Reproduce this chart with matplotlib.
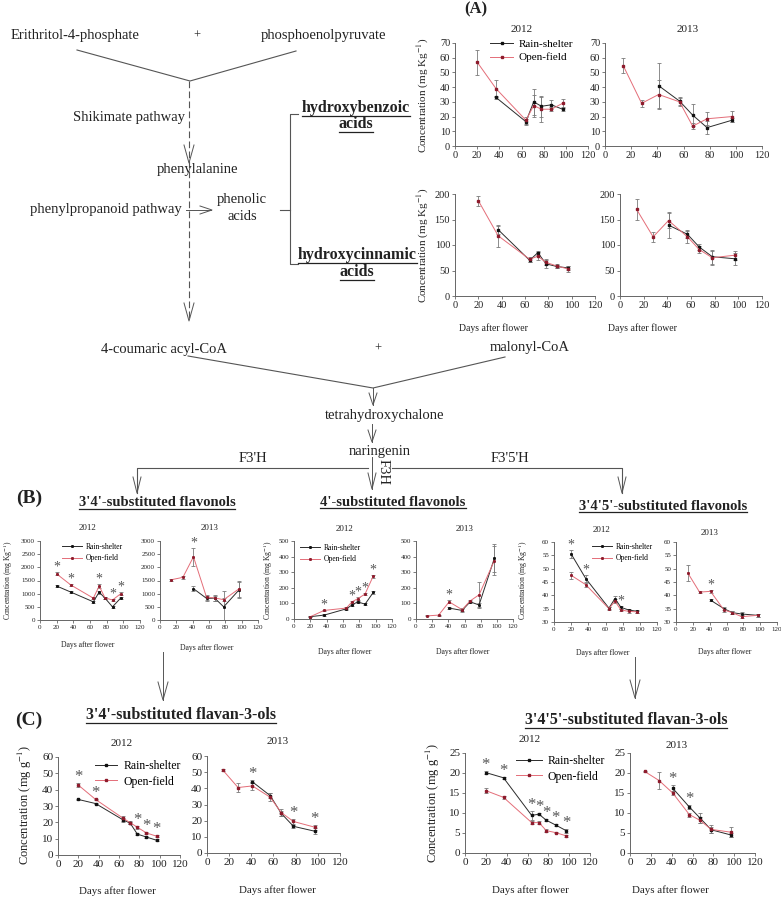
import numpy as np
import matplotlib
matplotlib.use('Agg')
import matplotlib.pyplot as plt

plt.rcParams['font.family'] = ['Liberation Serif', 'DejaVu Serif']
plt.rcParams['mathtext.fontset'] = 'stix'

# sampling days
days12 = [20, 37, 64, 71, 78, 87, 97]
days13 = [14, 28, 41, 57, 67, 78, 97]
days12_rs = [37, 64, 71, 78, 87, 97]
days13_rs = [41, 57, 67, 78, 97]

# (A) hydroxybenzoic acids, mg/kg
hb12_of = [57, 39, 17.5, 27.5, 25, 25, 29]
hb12_of_err = [8.5, 6, 2.5, 7.5, 8.5, 1.5, 3]
hb12_rs = [33, 16.5, 30, 27, 28, 25]
hb12_rs_err = [1, 2, 9, 7, 3, 1.5]
hb13_of = [54.5, 29, 35, 30, 13.5, 18.5, 20]
hb13_of_err = [5, 2.5, 10, 2.5, 2, 4.5, 3.5]
hb13_rs = [41, 30.5, 21, 12.5, 17.5]
hb13_rs_err = [15.5, 2.5, 7.5, 4.5, 1.5]

# (A) hydroxycinnamic acids, mg/kg
hc12_of = [187, 118, 72, 78, 66, 59, 53]
hc12_of_err = [10, 22, 5, 8, 5, 4, 5]
hc12_rs = [130, 70, 85, 63, 58, 55]
hc12_rs_err = [8, 4, 4, 9, 3, 4]
hc13_of = [170, 116, 148, 116, 91, 75, 80]
hc13_of_err = [21, 10, 15, 12, 7, 14, 9]
hc13_rs = [139, 121, 96, 77, 73]
hc13_rs_err = [25, 8, 5, 14, 12]

# (B) 3'4'-substituted flavonols
f34_12_rs = [1290, 1060, 690, 1060, 830, 500, 840]
f34_12_rs_err = [50, 30, 40, 60, 30, 40, 50]
f34_12_of = [1750, 1330, 830, 1290, 840, 760, 1000]
f34_12_of_err = [60, 40, 50, 90, 40, 30, 60]
f34_12_sig = [20, 37, 71, 87, 97]
f34_13_of = [1530, 1620, 2400, 860, 840, 770, 1190]
f34_13_of_err = [30, 60, 350, 100, 120, 60, 300]
f34_13_rs = [1190, 820, 830, 500, 1150]
f34_13_rs_err = [100, 80, 100, 600, 300]
f34_13_sig = [41]

# (B) 4'-substituted flavonols
f4_12_rs = [15, 25, 65, 90, 110, 95, 170]
f4_12_rs_err = [3, 5, 5, 8, 8, 8, 8]
f4_12_of = [15, 55, 70, 110, 130, 160, 275]
f4_12_of_err = [3, 5, 5, 8, 8, 8, 10]
f4_12_sig = [37, 71, 78, 87, 97]
f4_13_of = [20, 25, 110, 60, 116, 155, 375]
f4_13_of_err = [3, 3, 10, 8, 8, 85, 90]
f4_13_rs = [70, 55, 110, 90, 390]
f4_13_rs_err = [8, 8, 8, 10, 90]
f4_13_sig = [41]

# (B) 3'4'5'-substituted flavonols
f345_12_rs = [55.5, 46.3, 35.2, 38.8, 35.5, 34.5, 34.0]
f345_12_rs_err = [1.5, 1.2, 0.5, 1.0, 0.5, 0.5, 0.5]
f345_12_of = [47.5, 44.0, 35.0, 37.8, 34.5, 34.0, 33.8]
f345_12_of_err = [1.2, 0.8, 0.5, 0.8, 0.5, 0.5, 0.5]
f345_12_sig = [20, 37, 78]
f345_13_of = [48.4, 41.2, 41.5, 34.5, 33.5, 32.0, 32.5]
f345_13_of_err = [3.0, 0.4, 0.5, 0.6, 0.5, 0.6, 0.5]
f345_13_rs = [38.2, 35.0, 33.5, 33.0, 32.5]
f345_13_rs_err = [0.5, 0.6, 0.5, 0.6, 0.5]
f345_13_sig = [41]

# (C) 3'4'-substituted flavan-3-ols, mg/g
fl34_12_rs = [34, 31.5, 21.5, 19.5, 12.8, 11, 9]
fl34_12_rs_err = [0.5, 0.5, 1, 0.5, 0.5, 0.5, 0.5]
fl34_12_of = [42.8, 34, 22.5, 19.8, 17, 13.5, 11.5]
fl34_12_of_err = [1, 0.5, 1.5, 1, 0.8, 0.8, 0.6]
fl34_12_sig = [20, 37, 78, 87, 97]
fl34_13_of = [51.5, 40.5, 41.5, 34.5, 25, 19.5, 16]
fl34_13_of_err = [0.5, 2.5, 2.5, 2.5, 2, 1.5, 1.5]
fl34_13_rs = [44, 35.5, 24.5, 16.5, 13.5]
fl34_13_rs_err = [1, 1.5, 1.5, 1, 2]
fl34_13_sig = [41, 78, 97]

# (C) 3'4'5'-substituted flavan-3-ols, mg/g
fl345_12_rs = [20.1, 18.8, 9.4, 9.7, 8.2, 7.0, 5.6]
fl345_12_rs_err = [0.3, 0.3, 1.2, 0.3, 0.3, 0.3, 0.5]
fl345_12_of = [15.6, 13.9, 7.6, 7.6, 5.6, 5.1, 4.3]
fl345_12_of_err = [0.6, 0.3, 0.3, 0.3, 0.3, 0.2, 0.2]
fl345_12_sig = [20, 37, 64, 71, 78, 87, 97]
fl345_13_of = [20.4, 18.1, 15.0, 9.6, 8.2, 5.9, 5.2]
fl345_13_of_err = [0.2, 2.2, 0.5, 0.5, 0.7, 1.0, 1.2]
fl345_13_rs = [16.2, 11.5, 8.8, 5.8, 4.5]
fl345_13_rs_err = [0.8, 0.6, 1.2, 0.8, 0.5]
fl345_13_sig = [41, 57]

W, H = 781, 899
fig = plt.figure(figsize=(W / 100, H / 100), dpi=100)
ov = fig.add_axes([0, 0, 1, 1])
ov.set_xlim(0, W)
ov.set_ylim(H, 0)
ov.axis('off')

GRAY = '#555555'
RS_LINE, RS_MK = '#2b2b2b', '#111111'
OF_LINE, OF_MK = '#e46d78', '#8e1b2c'


def rect(x0, y0, x1, y1):
    return [x0 / W, 1 - y1 / H, (x1 - x0) / W, (y1 - y0) / H]


def panel(box, ylim, ystep, rs_days, rs, rs_err, of_days, of, of_err,
          sig=(), fs=7.5, ms=1.5, star_fs=11):
    ax = fig.add_axes(rect(*box))
    ax.patch.set_alpha(0)
    ax.errorbar(rs_days, rs, yerr=rs_err, fmt='none', ecolor='#7a7a7a',
                elinewidth=0.6, capsize=1.5, capthick=0.6)
    ax.errorbar(of_days, of, yerr=of_err, fmt='none', ecolor='#7a7a7a',
                elinewidth=0.6, capsize=1.5, capthick=0.6)
    l1, = ax.plot(rs_days, rs, color=RS_LINE, lw=0.7, marker='s', ms=ms,
                  mfc=RS_MK, mec=RS_MK)
    l2, = ax.plot(of_days, of, color=OF_LINE, lw=0.7, marker='s', ms=ms,
                  mfc=OF_MK, mec=OF_MK)
    ax.set_xlim(0, 120)
    ax.set_xticks(range(0, 121, 20))
    ax.set_ylim(*ylim)
    ax.set_yticks(np.arange(ylim[0], ylim[1] + 0.1, ystep))
    for s in ['top', 'right']:
        ax.spines[s].set_visible(False)
    for s in ['left', 'bottom']:
        ax.spines[s].set_color('#666666')
        ax.spines[s].set_linewidth(0.7)
    ax.tick_params(labelsize=fs, length=2, width=0.6, color='#666666', pad=1.5,
                   labelcolor='#222222')
    span = ylim[1] - ylim[0]
    tops = {}
    for dd, vv, ee in [(rs_days, rs, rs_err), (of_days, of, of_err)]:
        for d, v, e in zip(dd, vv, ee):
            tops[d] = max(tops.get(d, -1e9), v + e)
    for d in sig:
        ax.text(d, tops[d] - 0.02 * span, '*', ha='center', va='bottom',
                fontsize=star_fs, color=GRAY, clip_on=False)
    return ax, l1, l2


def legend(ax, l1, l2, x, y, fs, hl, sp):
    ax.legend([l1, l2], ['Rain-shelter', 'Open-field'], loc='upper left',
              bbox_to_anchor=(x / W, 1 - y / H), bbox_transform=fig.transFigure,
              frameon=False, fontsize=fs, handlelength=hl, handletextpad=0.5,
              borderpad=0, borderaxespad=0, labelspacing=sp)


def txt(x, y, s, fs=10.5, **kw):
    return ov.text(x, y, s, ha=kw.pop('ha', 'center'), va=kw.pop('va', 'center'),
                   fontsize=fs, color=kw.pop('color', '#222222'), **kw)


def seg(pts, **kw):
    xs, ys = zip(*pts)
    ov.plot(xs, ys, color=kw.pop('color', GRAY), lw=kw.pop('lw', 0.8), **kw)


def vhead(x, y, size=18, half=5):
    # open arrow head pointing down, tip at (x, y)
    seg([(x - half, y - size), (x, y), (x + half, y - size)], lw=0.7)


under = []


def title(x, y, s, fs):
    t = txt(x, y, s, fs, fontweight='bold')
    under.append(t)


# ---------------- pathway diagram ----------------
txt(75, 36, 'Erithritol-4-phosphate')
txt(197, 36, '+', 9)
txt(323, 36, 'phosphoenolpyruvate')
seg([(77, 50), (190, 81), (296, 51)])
seg([(189, 81), (189, 320)], ls=(0, (6, 3)))
vhead(189, 163)
vhead(189, 321)
txt(185, 118, 'Shikimate pathway', ha='right')
txt(197, 169, 'phenylalanine')
txt(182, 210, 'phenylpropanoid pathway', ha='right')
seg([(186, 210), (211, 210)], lw=0.7)
seg([(200, 206), (212, 210), (200, 214)], lw=0.7)
txt(242, 200, 'phenolic')
txt(242, 217, 'acids')
seg([(280, 210), (290, 210)])
seg([(298, 114), (290, 114), (290, 264), (298, 264)])
title(356, 108, 'hydroxybenzoic', 11.5)
title(356, 124, 'acids', 11.5)
title(357, 255, 'hydroxycinnamic', 11.5)
title(357, 272, 'acids', 11.5)

txt(164, 349, '4-coumaric acyl-CoA')
txt(378, 349, '+', 9)
txt(530, 347, 'malonyl-CoA')
seg([(188, 356), (373, 388), (505, 357)])
seg([(373, 388), (373, 405)], lw=0.7)
vhead(373, 405, 12, 4)
txt(385, 415, 'tetrahydroxychalone')
seg([(372, 424), (372, 442)], lw=0.7)
vhead(372, 442, 12, 4)
txt(380, 451, 'naringenin')
seg([(137, 493), (137, 468), (368, 468)])
seg([(392, 468), (622, 468), (622, 493)])
vhead(137, 493, 16, 4)
vhead(622, 493, 16, 4)
seg([(372, 457), (372, 489)], lw=0.7)
vhead(372, 489, 16, 4)
txt(253, 459, "F3'H", 10.5)
txt(510, 459, "F3'5'H", 10.5)
txt(383, 472, 'F3H', 10.5, rotation=-90)

# ---------------- (A) ----------------
txt(476, 9, '(A)', 12, fontweight='bold')
txt(522, 29, '2012', 8)
txt(688, 29, '2013', 8)
a, l1, l2 = panel((455, 43, 588, 146), (0, 70), 10, days12_rs, hb12_rs, hb12_rs_err,
                  days12, hb12_of, hb12_of_err)
legend(a, l1, l2, 490, 39, 8, 2.1, 0.35)
panel((605, 43, 762, 146), (0, 70), 10, days13_rs, hb13_rs, hb13_rs_err,
      days13, hb13_of, hb13_of_err)
panel((455, 194, 595, 296), (0, 200), 50, days12_rs, hc12_rs, hc12_rs_err,
      days12, hc12_of, hc12_of_err)
panel((620, 194, 762, 296), (0, 200), 50, days13_rs, hc13_rs, hc13_rs_err,
      days13, hc13_of, hc13_of_err)
for yc in (95, 245):
    txt(423, yc, 'Concentration (mg Kg$^{-1}$)', 8, rotation=90)
txt(493, 328, 'Days after flower', 7)
txt(642, 328, 'Days after flower', 7)

# ---------------- (B) ----------------
txt(29, 498, '(B)', 14, fontweight='bold')
title(157, 503, "3'4'-substituted flavonols", 10.5)
title(393, 502, "4'-substituted flavonols", 10.5)
title(663, 506, "3'4'5'-substituted flavonols", 10.5)
for x, y, s in [(88, 528, '2012'), (210, 528, '2013'), (345, 529, '2012'),
                (465, 529, '2013'), (602, 530, '2012'), (710, 533, '2013')]:
    txt(x, y, s, 6.5)
bk = dict(fs=5, ms=1.1, star_fs=10)
a, l1, l2 = panel((40, 541, 140, 620), (0, 3000), 500, days12, f34_12_rs, f34_12_rs_err,
                  days12, f34_12_of, f34_12_of_err, f34_12_sig, **bk)
legend(a, l1, l2, 62, 543, 5.5, 2.6, 0.45)
panel((160, 541, 258, 620), (0, 3000), 500, days13_rs, f34_13_rs, f34_13_rs_err,
      days13, f34_13_of, f34_13_of_err, f34_13_sig, **bk)
a, l1, l2 = panel((294, 541, 392, 619), (0, 500), 100, days12, f4_12_rs, f4_12_rs_err,
                  days12, f4_12_of, f4_12_of_err, f4_12_sig, **bk)
legend(a, l1, l2, 300, 544, 5.5, 2.6, 0.45)
panel((416, 541, 513, 619), (0, 500), 100, days13_rs, f4_13_rs, f4_13_rs_err,
      days13, f4_13_of, f4_13_of_err, f4_13_sig, **bk)
a, l1, l2 = panel((554, 542, 657, 622), (30, 60), 5, days12, f345_12_rs, f345_12_rs_err,
                  days12, f345_12_of, f345_12_of_err, f345_12_sig, **bk)
legend(a, l1, l2, 592, 543, 5.5, 2.6, 0.45)
panel((676, 542, 777, 622), (30, 60), 5, days13_rs, f345_13_rs, f345_13_rs_err,
      days13, f345_13_of, f345_13_of_err, f345_13_sig, **bk)
for x in (8, 268, 523):
    txt(x, 580, 'Concentration (mg Kg$^{-1}$)', 5.5, rotation=90)
for x, y in [(88, 645), (207, 648), (345, 652), (463, 652), (603, 653), (725, 652)]:
    txt(x, y, 'Days after flower', 5.5)

# arrows to (C)
seg([(163, 652), (163, 700)], lw=0.7)
vhead(163, 700, 18, 5)
seg([(635, 657), (635, 698)], lw=0.7)
vhead(635, 698, 18, 5)

# ---------------- (C) ----------------
txt(29, 720, '(C)', 14, fontweight='bold')
title(181, 715, "3'4'-substituted flavan-3-ols", 11.5)
title(626, 720, "3'4'5'-substituted flavan-3-ols", 11.5)
for x, y, s in [(122, 743, '2012'), (278, 742, '2013'), (530, 740, '2012'), (677, 745, '2013')]:
    txt(x, y, s, 8)
ck = dict(fs=8, ms=1.5, star_fs=12)
a, l1, l2 = panel((58, 757, 180, 855), (0, 60), 10, days12, fl34_12_rs, fl34_12_rs_err,
                  days12, fl34_12_of, fl34_12_of_err, fl34_12_sig, **ck)
legend(a, l1, l2, 95, 760, 8.5, 1.9, 0.3)
panel((207, 756, 340, 853), (0, 60), 10, days13_rs, fl34_13_rs, fl34_13_rs_err,
      days13, fl34_13_of, fl34_13_of_err, fl34_13_sig, **ck)
a, l1, l2 = panel((465, 753, 590, 853), (0, 25), 5, days12, fl345_12_rs, fl345_12_rs_err,
                  days12, fl345_12_of, fl345_12_of_err, fl345_12_sig, **ck)
legend(a, l1, l2, 516, 755, 8.5, 2.2, 0.3)
panel((630, 753, 755, 853), (0, 25), 5, days13_rs, fl345_13_rs, fl345_13_rs_err,
      days13, fl345_13_of, fl345_13_of_err, fl345_13_sig, **ck)
txt(25, 805, 'Concentration (mg g$^{-1}$)', 9, rotation=90)
txt(433, 803, 'Concentration (mg g$^{-1}$)', 9, rotation=90)
for x, y in [(117, 891), (277, 890), (530, 890), (670, 890)]:
    txt(x, y, 'Days after flower', 7.8)

# underline the bold headings
fig.canvas.draw()
r = fig.canvas.get_renderer()
inv = ov.transData.inverted()
for t in under:
    bb = t.get_window_extent(r)
    (x0, y0), (x1, y1) = inv.transform([(bb.x0, bb.y0), (bb.x1, bb.y1)])
    ov.plot([x0, x1], [y0 - 0.5, y0 - 0.5], color='#222222', lw=0.9)

fig.savefig('out.png', dpi=100)
